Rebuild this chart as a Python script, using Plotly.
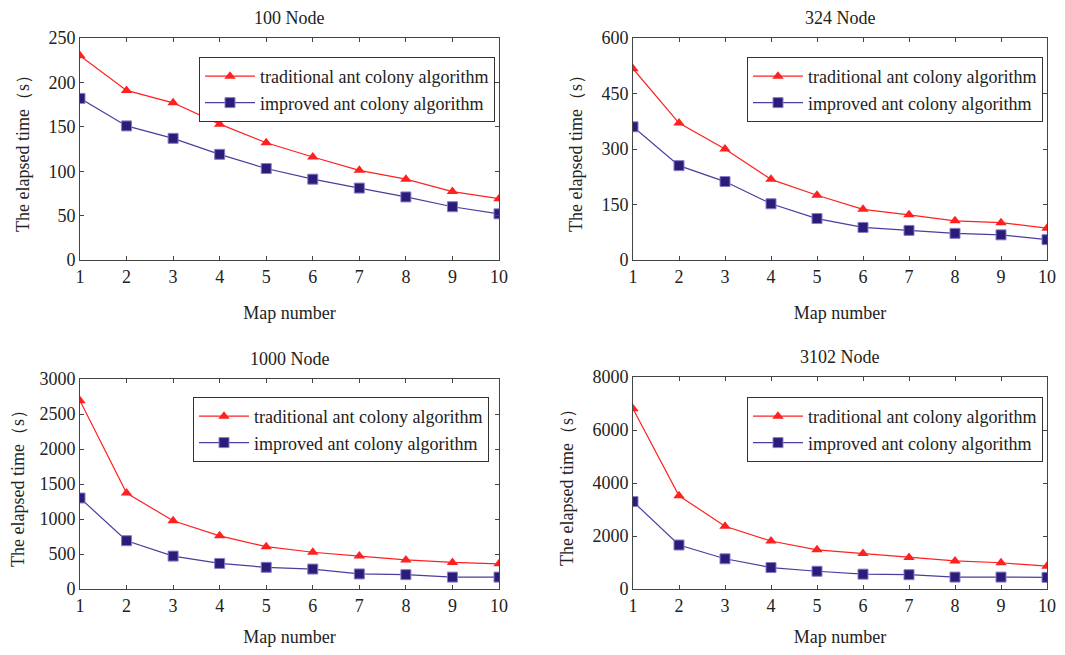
import plotly.graph_objects as go

maps = [1, 2, 3, 4, 5, 6, 7, 8, 9, 10]

titles = ["100 Node", "324 Node", "1000 Node", "3102 Node"]

trad_100 = [230, 191, 177, 153, 132, 116, 101, 91, 77, 69]
impr_100 = [182, 151, 137, 119, 103, 91, 81, 71, 60, 52]

trad_324 = [517, 370, 300, 218, 175, 137, 122, 106, 101, 86]
impr_324 = [360, 255, 212, 152, 112, 88, 80, 72, 68, 55]

trad_1000 = [2690, 1370, 975, 760, 605, 525, 470, 415, 380, 360]
impr_1000 = [1300, 690, 470, 365, 310, 285, 215, 205, 170, 170]

trad_3102 = [6800, 3520, 2370, 1810, 1480, 1340, 1190, 1060, 990, 860]
impr_3102 = [3300, 1660, 1140, 810, 670, 560, 540, 450, 450, 440]

y_ranges = [[0, 250], [0, 600], [0, 3000], [0, 8000]]
y_dticks = [50, 150, 500, 2000]

legend_names = ["traditional ant colony algorithm", "improved ant colony algorithm"]

# The page body has an 8px default margin on every side; size the figure so
# the page does not overflow, and express targets in window pixels.
OFF = 8
W, H = 1065 - 2 * OFF, 655 - 2 * OFF
# panel pixel boxes in window pixels: (left, right, top, bottom)
boxes = [(80, 499, 38, 260), (633, 1047, 38, 260), (80, 499, 379, 589), (633, 1047, 377, 589)]
legend_pos = [(199, 57), (747, 57), (193, 397), (747, 397)]


def px(xw):
    return (xw - OFF) / W


def py(yw):
    return 1 - (yw - OFF) / H


FONT = "Liberation Serif, Times New Roman, serif"
RED = "#ff2020"
BLUE_LINE = "#4b3d9e"
BLUE_FILL = "#2d1b7a"
TXT = "#222"

fig = go.Figure()
series = [(trad_100, impr_100), (trad_324, impr_324), (trad_1000, impr_1000), (trad_3102, impr_3102)]

for i, (tr, im) in enumerate(series):
    sfx = "" if i == 0 else str(i + 1)
    leg = "legend" if i == 0 else f"legend{i+1}"
    fig.add_trace(go.Scatter(
        x=maps, y=tr, mode="lines+markers", name=legend_names[0],
        line=dict(color=RED, width=1.2),
        marker=dict(symbol="triangle-up", size=10, color=RED),
        xaxis="x" + sfx, yaxis="y" + sfx, legend=leg))
    fig.add_trace(go.Scatter(
        x=maps, y=im, mode="lines+markers", name=legend_names[1],
        line=dict(color=BLUE_LINE, width=1.2),
        marker=dict(symbol="square", size=10, color=BLUE_FILL,
                    line=dict(color="#8a7cc8", width=1)),
        xaxis="x" + sfx, yaxis="y" + sfx, legend=leg))

layout = dict(
    width=W, height=H,
    margin=dict(l=0, r=0, t=0, b=0),
    paper_bgcolor="white", plot_bgcolor="white",
    font=dict(family=FONT, size=18, color=TXT),
    showlegend=True,
    annotations=[],
)

axis_common = dict(showgrid=False, zeroline=False, showline=True, linecolor="#444",
                   linewidth=1, ticks="inside", ticklen=4, tickcolor="#444",
                   mirror="ticks", automargin=False,
                   tickfont=dict(family=FONT, size=18, color=TXT))

for i, (l, r, t, b) in enumerate(boxes):
    sfx = "" if i == 0 else str(i + 1)
    xk = "xaxis" + sfx
    yk = "yaxis" + sfx
    layout[xk] = dict(axis_common, domain=[px(l), px(r)], range=[1, 10],
                      tickvals=maps, anchor="y" + sfx,
                      title=dict(text="Map number", standoff=20 if i < 2 else 16,
                                 font=dict(family=FONT, size=18, color=TXT)))
    layout[yk] = dict(axis_common, domain=[py(b), py(t)], range=y_ranges[i],
                      dtick=y_dticks[i], tick0=0, anchor="x" + sfx,
                      title=dict(text="The elapsed time（s）", standoff=14,
                                 font=dict(family=FONT, size=18, color=TXT)))
    layout["annotations"].append(dict(
        text=titles[i], x=(px(l) + px(r)) / 2, y=py(t - 20), xref="paper", yref="paper",
        showarrow=False, xanchor="center", yanchor="middle",
        font=dict(family=FONT, size=18, color=TXT)))
    lx, ly = legend_pos[i]
    lk = "legend" if i == 0 else f"legend{i+1}"
    layout[lk] = dict(x=px(lx), y=py(ly), xanchor="left", yanchor="top",
                      bgcolor="white", bordercolor="#333", borderwidth=1,
                      font=dict(family=FONT, size=18, color=TXT),
                      tracegroupgap=0, itemwidth=50)

fig.update_layout(**layout)
fig.write_html("out.html")
